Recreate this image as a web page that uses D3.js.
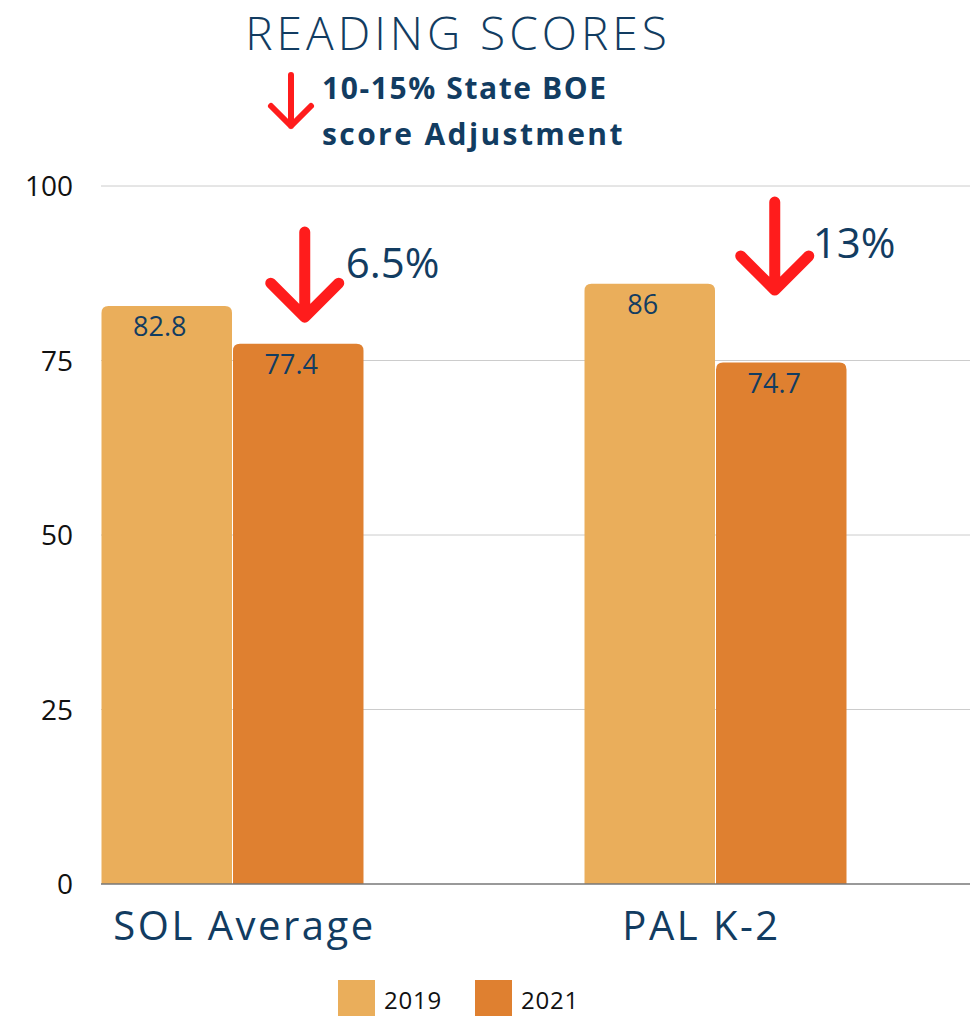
<!DOCTYPE html>
<html>
<head>
<meta charset="utf-8">
<script src="https://cdn.jsdelivr.net/npm/d3@7"></script>
<style>
  body { margin: 0; background: #fff; }
  svg text { font-family: "Open Sans", "Lato", sans-serif; }
</style>
</head>
<body>
<div id="chart"></div>
<script>
// chart values
var categories = ["SOL Average", "PAL K-2"];
var years = ["2019", "2021"];
var scores2019 = [82.8, 86];
var scores2021 = [77.4, 74.7];
var yTicks = [0, 25, 50, 75, 100];
var dropLabels = ["6.5%", "13%"];

var svgWidth = 970;
var svgHeight = 1016;
var navy = "#123c61";
var red = "#ff1c1c";
var colors = ["#eaae5b", "#df8030"];

var svg = d3.select("#chart")
  .append("svg")
  .attr("width", svgWidth)
  .attr("height", svgHeight);

// scales
var yScale = d3.scaleLinear().domain([0, 100]).range([884, 186]);
var x0 = d3.scaleBand()
  .domain(categories)
  .range([101, 847])
  .paddingInner(0.4555)
  .paddingOuter(0);
var x1 = d3.scaleBand()
  .domain(years)
  .range([0, x0.bandwidth()]);

// gridlines
svg.append("g")
  .selectAll("line")
  .data(yTicks.filter(d => d > 0))
  .enter()
  .append("line")
  .attr("x1", 101)
  .attr("x2", 970)
  .attr("y1", d => yScale(d))
  .attr("y2", d => yScale(d))
  .attr("stroke", "#cccccc")
  .attr("stroke-width", 1);

// y axis labels
var leftAxis = d3.axisLeft(yScale).tickValues(yTicks).tickSize(0).tickPadding(28);
var yAxis = svg.append("g")
  .attr("transform", "translate(101,0)")
  .call(leftAxis);
yAxis.select(".domain").remove();
yAxis.selectAll("text")
  .attr("font-size", 28)
  .attr("fill", "#111")
  .attr("dy", "0.35em")
  .style("font-family", "'Open Sans', sans-serif");

// bars with rounded tops
function barPath(x, y, w, h, r) {
  return "M" + x + "," + (y + h) +
    "V" + (y + r) +
    "Q" + x + "," + y + " " + (x + r) + "," + y +
    "H" + (x + w - r) +
    "Q" + (x + w) + "," + y + " " + (x + w) + "," + (y + r) +
    "V" + (y + h) + "Z";
}

var rows = categories.map(function(c, i) {
  return { cat: c, values: [scores2019[i], scores2021[i]] };
});

var groups = svg.selectAll(".cat")
  .data(rows)
  .enter()
  .append("g")
  .attr("class", "cat")
  .attr("transform", d => `translate(${x0(d.cat)},0)`);

groups.selectAll("path")
  .data(d => d.values.map((v, j) => ({ year: years[j], v: v, j: j })))
  .enter()
  .append("path")
  .attr("d", d => barPath(x1(d.year) + 0.5, yScale(d.v), x1.bandwidth() - 1, yScale(0) - yScale(d.v), 7))
  .attr("fill", d => colors[d.j]);

// value labels
groups.selectAll("text.val")
  .data(d => d.values.map((v, j) => ({ year: years[j], v: v })))
  .enter()
  .append("text")
  .attr("class", "val")
  .attr("x", d => x1(d.year) + x1.bandwidth() / 2 - 7)
  .attr("y", d => yScale(d.v) + 30)
  .attr("text-anchor", "middle")
  .attr("font-size", 27)
  .attr("fill", navy)
  .text(d => d.v);

// baseline
svg.append("line")
  .attr("x1", 101)
  .attr("x2", 970)
  .attr("y1", yScale(0))
  .attr("y2", yScale(0))
  .attr("stroke", "#777")
  .attr("stroke-width", 1.5);

// category labels
var labelShift = [12, -14];
svg.selectAll("text.cat-label")
  .data(categories)
  .enter()
  .append("text")
  .attr("class", "cat-label")
  .attr("x", (d, i) => x0(d) + x0.bandwidth() / 2 + labelShift[i])
  .attr("y", 940)
  .attr("text-anchor", "middle")
  .attr("font-size", 40)
  .attr("letter-spacing", 2.5)
  .attr("fill", navy)
  .text(d => d);

// down arrows with percentage drop
function arrow(g, x, yTop, yTip, arm, width) {
  g.append("path")
    .attr("d", `M${x},${yTop}V${yTip}M${x - arm},${yTip - arm}L${x},${yTip}L${x + arm},${yTip - arm}`)
    .attr("fill", "none")
    .attr("stroke", red)
    .attr("stroke-width", width)
    .attr("stroke-linecap", "round")
    .attr("stroke-linejoin", "round");
}

var arrowTops = [93.4, 97.7];
var arrowTips = [81.2, 85.1];
var arrowShift = [6.5, -6.5];
var labelLevels = [86.8, 89.7];
var labelGap = [41, 38];

categories.forEach(function(c, i) {
  var cx = x0(c) + x1("2021") + x1.bandwidth() / 2 + arrowShift[i];
  arrow(svg, cx, yScale(arrowTops[i]), yScale(arrowTips[i]), 34, 11);
  svg.append("text")
    .attr("x", cx + labelGap[i])
    .attr("y", yScale(labelLevels[i]))
    .attr("font-size", 42)
    .attr("fill", navy)
    .text(dropLabels[i]);
});

// title
svg.append("text")
  .attr("x", 458)
  .attr("y", 49.5)
  .attr("text-anchor", "middle")
  .attr("font-size", 46)
  .attr("font-weight", 300)
  .attr("letter-spacing", 4)
  .attr("fill", navy)
  .text("READING SCORES");

arrow(svg, 291, 75, 126, 20, 6);

svg.append("text")
  .attr("x", 322)
  .attr("y", 99)
  .attr("font-size", 30)
  .attr("font-weight", 700)
  .attr("letter-spacing", 1.6)
  .attr("fill", navy)
  .text("10-15% State BOE");
svg.append("text")
  .attr("x", 322)
  .attr("y", 145)
  .attr("font-size", 30)
  .attr("font-weight", 700)
  .attr("letter-spacing", 2.4)
  .attr("fill", navy)
  .text("score Adjustment");

// legend
var legend = svg.selectAll(".legend")
  .data(years)
  .enter()
  .append("g")
  .attr("class", "legend")
  .attr("transform", (d, i) => `translate(${338 + i * 137},980)`);
legend.append("rect")
  .attr("width", 37)
  .attr("height", 40)
  .attr("fill", (d, i) => colors[i]);
legend.append("text")
  .attr("x", 46)
  .attr("y", 29)
  .attr("font-size", 24)
  .attr("letter-spacing", 0.8)
  .attr("fill", "#111")
  .text(d => d);
</script>
</body>
</html>
